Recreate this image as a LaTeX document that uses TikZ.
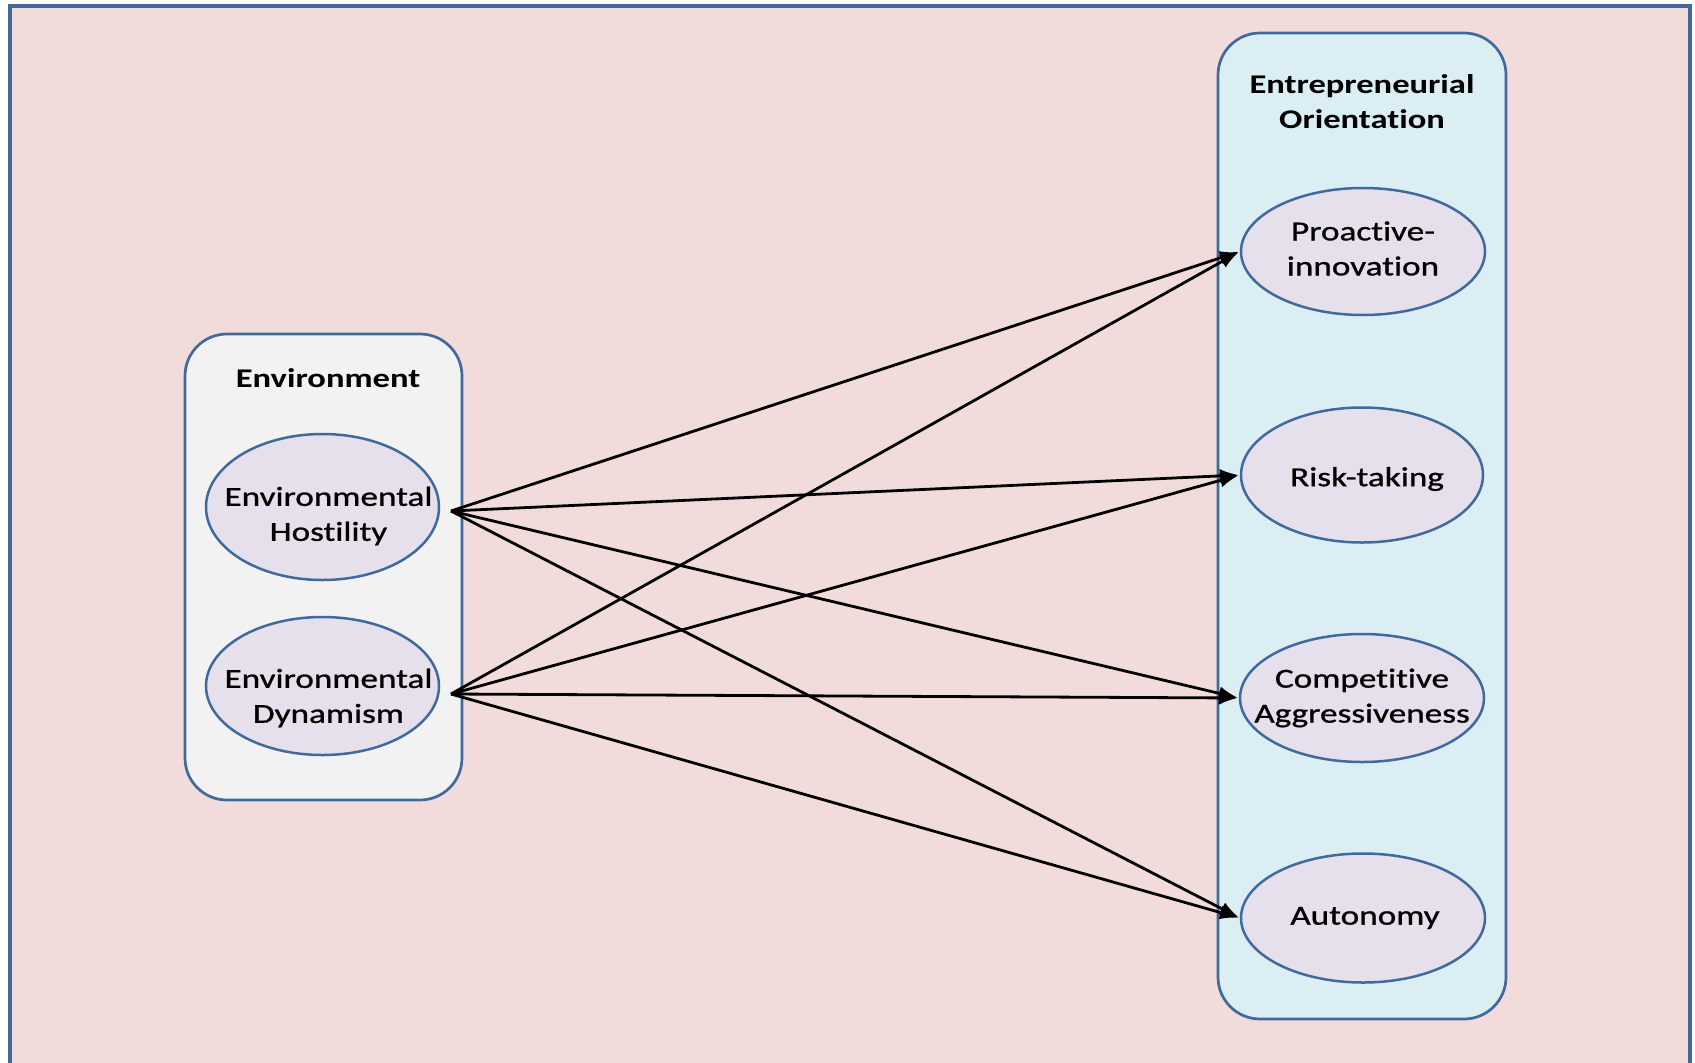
\documentclass[tikz,border=0pt]{standalone}
\usepackage{fontspec}
\setmainfont[FakeStretch=1.28, Ligatures=NoCommon]{Carlito}
\newfontfamily\ovalfont[FakeStretch=1.28, FakeBold=1.0, Ligatures=NoCommon]{Carlito}
\usetikzlibrary{shapes.geometric,arrows.meta}

\definecolor{pagepink}{HTML}{F2DCDB}
\definecolor{edgeblue}{HTML}{41699C}
\definecolor{envfill}{HTML}{F2F2F2}
\definecolor{eofill}{HTML}{DBEEF3}
\definecolor{ovalfill}{HTML}{E5E0EC}

\tikzset{
  groupbox/.style={draw=edgeblue, line width=2.7pt, rectangle, rounded corners=42pt, inner sep=0pt},
  grouptitle/.style={font=\fontsize{27}{35}\selectfont\bfseries, align=center, inner sep=0pt},
  construct/.style={ellipse, draw=edgeblue, line width=2.5pt, fill=ovalfill, inner sep=0pt},
  constructtext/.style={align=center, inner sep=0pt, font=\ovalfont\fontsize{27.5}{35}\selectfont},
  link/.style={line width=2.8pt, -{Latex[length=19pt,width=14pt]}, shorten >=1pt}
}

\begin{document}
\begin{tikzpicture}[x=1pt,y=-1pt]
\useasboundingbox (0,0) rectangle (1695,1063);
\fill[white] (0,0) rectangle (1695,1063);

% outer panel
\draw[draw=edgeblue, line width=4pt, fill=pagepink] (10,6) rectangle (1690,1090);

% group boxes
\node[groupbox, fill=envfill, minimum width=277pt, minimum height=466pt] (envbox) at (323.5,567) {};
\node[groupbox, fill=eofill, minimum width=288pt, minimum height=986pt] (eobox) at (1362,526) {};

% group titles
\node[grouptitle] (envtitle) at (328,378) {Environment};
\node[grouptitle] (eotitle) at (1362,102) {Entrepreneurial\\Orientation};

% environmental constructs
\node[construct, minimum width=233pt, minimum height=146pt] (eh) at (322.5,507) {};
\node[construct, minimum width=233pt, minimum height=138pt] (ed) at (322.5,686) {};
\node[constructtext] (ehtext) at ([xshift=6pt,yshift=-9pt]eh.center) {Environmental\\Hostility};
\node[constructtext] (edtext) at ([xshift=6pt,yshift=-12pt]ed.center) {Environmental\\Dynamism};

% entrepreneurial orientation dimensions
\node[construct, minimum width=244pt, minimum height=127pt] (pi) at (1363,251.5) {};
\node[construct, minimum width=242pt, minimum height=135pt] (rt) at (1362,475) {};
\node[construct, minimum width=244pt, minimum height=128pt] (ca) at (1362,698) {};
\node[construct, minimum width=244pt, minimum height=129pt] (au) at (1363,918) {};
\node[constructtext] (pitext) at ([yshift=3pt]pi.center) {Proactive-\\innovation};
\node[constructtext] (rttext) at ([xshift=5pt,yshift=-4pt]rt.center) {Risk-taking};
\node[constructtext] (catext) at (ca.center) {Competitive\\Aggressiveness};
\node[constructtext] (autext) at ([xshift=2pt]au.center) {Autonomy};

% arrow origins just right of each environmental construct
\coordinate (hs) at (451,511);
\coordinate (ds) at (451,694);

% paths
\foreach \t in {pi,rt,ca,au} {
  \draw[link] (hs) -- (\t.west);
  \draw[link] (ds) -- (\t.west);
}
\end{tikzpicture}
\end{document}
